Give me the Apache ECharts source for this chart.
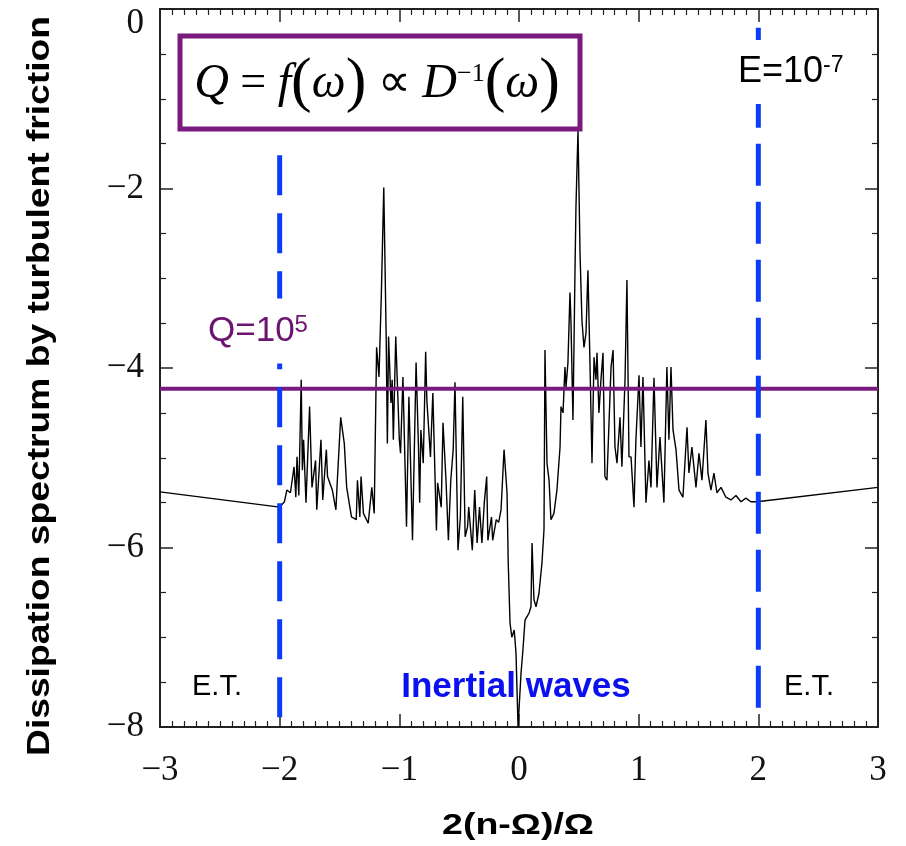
<!DOCTYPE html>
<html><head><meta charset="utf-8">
<script src="https://cdn.jsdelivr.net/npm/echarts@6/dist/echarts.min.js"></script>
<style>html,body{margin:0;padding:0;background:#fff}#c{width:906px;height:846px}</style>
</head><body><div id="c"></div>
<script>
// x values: 2(n-Ω)/Ω
const freq = [
 -3, -2.00, -1.96, -1.94, -1.91, -1.88, -1.865, -1.855, -1.84, -1.82,
 -1.81, -1.80, -1.78, -1.75, -1.73, -1.70, -1.69, -1.655, -1.64, -1.61,
 -1.60, -1.56, -1.53, -1.52, -1.49, -1.46, -1.44, -1.40, -1.36, -1.35,
 -1.33, -1.32, -1.30, -1.26, -1.23, -1.21, -1.19, -1.17, -1.15, -1.13,
 -1.11, -1.10, -1.09, -1.07, -1.06, -1.05, -1.03, -1.00, -0.99, -0.97,
 -0.94, -0.92, -0.89, -0.86, -0.84, -0.83, -0.82, -0.80, -0.78, -0.77,
 -0.74, -0.72, -0.69, -0.68, -0.65, -0.635, -0.61, -0.59, -0.57, -0.55,
 -0.535, -0.51, -0.49, -0.47, -0.45, -0.43, -0.42, -0.39, -0.37, -0.35,
 -0.33, -0.31, -0.29, -0.27, -0.26, -0.23, -0.22, -0.19, -0.17, -0.15,
 -0.125, -0.10, -0.09, -0.075, -0.06, -0.04, -0.025, -0.008, 0.017, 0.033,
 0.05, 0.067, 0.084, 0.10, 0.109, 0.125, 0.142, 0.167, 0.192, 0.209,
 0.217, 0.234, 0.251, 0.267, 0.292, 0.317, 0.343, 0.351, 0.368, 0.384,
 0.393, 0.409, 0.426, 0.434, 0.451, 0.468, 0.476, 0.493, 0.51, 0.526,
 0.543, 0.56, 0.576, 0.593, 0.61, 0.627, 0.643, 0.652, 0.668, 0.685,
 0.702, 0.718, 0.735, 0.769, 0.786, 0.802, 0.819, 0.844, 0.86, 0.886,
 0.902, 0.919, 0.936, 0.961, 0.977, 1.003, 1.019, 1.036, 1.061, 1.086,
 1.103, 1.128, 1.153, 1.178, 1.211, 1.236, 1.253, 1.27, 1.287, 1.312,
 1.337, 1.37, 1.404, 1.42, 1.445, 1.479, 1.504, 1.529, 1.562, 1.579,
 1.604, 1.629, 1.654, 1.688, 1.729, 1.771, 1.813, 1.855, 1.896, 1.938,
 1.99, 3
];
// y values: dissipation spectrum by turbulent friction
const dissipation = [
 -5.38, -5.55, -5.49, -5.36, -5.39, -5.10, -5.44, -4.99, -5.42, -4.13,
 -5.14, -4.80, -5.50, -4.43, -5.33, -5.03, -5.58, -4.80, -5.47, -4.91,
 -5.21, -5.36, -5.58, -5.30, -4.55, -4.84, -5.33, -5.66, -5.69, -5.25,
 -5.66, -5.21, -5.62, -5.73, -5.33, -5.62, -3.77, -4.10, -3.16, -1.99,
 -3.65, -4.84, -3.65, -4.39, -4.13, -4.80, -3.65, -4.80, -4.95, -4.10,
 -5.77, -4.32, -5.92, -3.94, -4.88, -5.50, -4.69, -5.06, -3.82, -4.36,
 -4.99, -4.28, -5.81, -5.28, -5.55, -4.61, -5.25, -5.92, -5.25, -4.91,
 -4.16, -6.03, -5.66, -4.32, -5.88, -5.77, -5.55, -6.03, -5.36, -5.95,
 -5.55, -5.95, -5.50, -5.21, -5.92, -5.66, -5.92, -5.69, -5.72, -5.58,
 -4.91, -5.39, -6.17, -6.84, -7.00, -6.92, -7.18, -8.00, -7.40, -7.14,
 -6.81, -6.77, -6.73, -6.66, -5.95, -6.58, -6.66, -6.51, -6.17, -5.80,
 -3.80, -5.06, -5.25, -5.69, -5.62, -5.36, -4.88, -4.43, -4.50, -3.99,
 -4.21, -3.94, -3.16, -3.47, -4.58, -2.91, -2.21, -1.35, -2.72, -3.47,
 -3.77, -3.61, -2.91, -3.94, -5.06, -3.88, -4.13, -3.83, -4.50, -4.13,
 -3.83, -5.21, -5.25, -3.99, -3.80, -4.88, -5.06, -4.55, -5.10, -4.13,
 -3.02, -4.99, -4.99, -5.55, -4.80, -4.08, -4.88, -4.10, -5.50, -5.03,
 -5.33, -4.11, -5.33, -4.77, -5.50, -3.99, -4.80, -3.99, -4.69, -4.91,
 -5.36, -5.44, -4.66, -5.17, -4.88, -5.33, -4.95, -5.25, -4.58, -5.17,
 -5.36, -5.17, -5.39, -5.33, -5.44, -5.47, -5.42, -5.49, -5.45, -5.49,
 -5.49, -5.33
];
const xTickValues = [-3, -2, -1, 0, 1, 2, 3];
const yTickValues = [0, -2, -4, -6, -8];
const qLevel = [-4.23, -4.23];
const qLevelX = [-3, 3];
const leftBoundX = [-2, -2];
const leftBoundY = [-1.63, -8];
const rightBoundX = [2, 2];
const rightBoundY = [-0.21, -7.87];

const zip = (a, b) => a.map((v, i) => [v, b[i]]);
const fmt = v => (v < 0 ? '\u2212' + Math.abs(v) : String(v));
const labelFont = 'Liberation Serif';

const chart = echarts.init(document.getElementById('c'), null, {renderer: 'canvas'});
const axisCommon = {
  type: 'value',
  axisLine: {show: true, onZero: false, lineStyle: {color: '#222', width: 2}},
  axisTick: {show: true, inside: true, length: 13, lineStyle: {color: '#222', width: 1.5}},
  minorTick: {show: true, length: 6, lineStyle: {color: '#222', width: 1.2}},
  splitLine: {show: false},
  minorSplitLine: {show: false}
};
chart.setOption({
  animation: false,
  backgroundColor: '#fff',
  grid: {left: 160, right: 28, top: 9, bottom: 119},
  xAxis: [
    Object.assign({}, axisCommon, {
      min: xTickValues[0], max: xTickValues[xTickValues.length - 1], interval: 1, position: 'bottom',
      minorTick: Object.assign({}, axisCommon.minorTick, {splitNumber: 10}),
      axisLabel: {margin: 26, fontFamily: labelFont, fontSize: 35, color: '#111', formatter: fmt}
    }),
    Object.assign({}, axisCommon, {
      min: xTickValues[0], max: xTickValues[xTickValues.length - 1], interval: 1, position: 'top',
      minorTick: Object.assign({}, axisCommon.minorTick, {splitNumber: 10}),
      axisLabel: {show: false}
    })
  ],
  yAxis: [
    Object.assign({}, axisCommon, {
      min: yTickValues[yTickValues.length - 1], max: yTickValues[0], interval: 2, position: 'left',
      minorTick: Object.assign({}, axisCommon.minorTick, {splitNumber: 4}),
      axisLabel: {
        margin: 16, fontFamily: labelFont, fontSize: 35, color: '#111',
        formatter: v => (v === 0 ? '{z|0}' : fmt(v)),
        rich: {z: {fontFamily: labelFont, fontSize: 35, color: '#111', padding: [30, 0, 0, 0]}}
      }
    }),
    Object.assign({}, axisCommon, {
      min: yTickValues[yTickValues.length - 1], max: yTickValues[0], interval: 2, position: 'right',
      minorTick: Object.assign({}, axisCommon.minorTick, {splitNumber: 4}),
      axisLabel: {show: false}
    })
  ],
  series: [
    {
      name: 'spectrum', type: 'line', data: zip(freq, dissipation), showSymbol: false,
      lineStyle: {color: '#000', width: 1.4}, z: 2, clip: true
    },
    {
      name: 'Q', type: 'line', data: zip(qLevelX, qLevel), showSymbol: false,
      lineStyle: {color: '#7A1A7E', width: 4}, z: 3
    },
    {
      name: 'left bound', type: 'line', data: zip(leftBoundX, leftBoundY), showSymbol: false,
      lineStyle: {color: '#0B3CFA', width: 5, type: [40, 18], cap: 'butt'}, z: 4
    },
    {
      name: 'right bound', type: 'line', data: zip(rightBoundX, rightBoundY), showSymbol: false,
      lineStyle: {color: '#0B3CFA', width: 5, type: [42, 16], cap: 'butt'}, z: 4
    }
  ],
  graphic: [
    {
      type: 'rect', z: 100,
      shape: {x: 180, y: 36, width: 400, height: 93},
      style: {fill: '#fff', stroke: '#7A1A7E', lineWidth: 5}
    },
    {
      type: 'text', z: 101, x: 377, y: 84,
      style: {
        text: '{i|Q}{n| = }{i|f}{p|(}{i|\u03C9}{p|)}{n| \u221D }{i|D}{s|\u22121}{p|(}{i|\u03C9}{p|)}',
        align: 'center', verticalAlign: 'middle',
        rich: {
          i: {fontFamily: 'Liberation Serif', fontStyle: 'italic', fontSize: 48, fill: '#000', color: '#000'},
          n: {fontFamily: 'Liberation Serif', fontSize: 46, fill: '#000', color: '#000'},
          p: {fontFamily: 'Liberation Serif', fontSize: 62, fill: '#000', color: '#000'},
          s: {fontFamily: 'Liberation Serif', fontSize: 26, fill: '#000', color: '#000', verticalAlign: 'top', padding: [8, 0, 0, 0]}
        }
      }
    },
    {
      type: 'text', z: 101, x: 734, y: 72,
      style: {
        text: '{a|E=10}{s|-7}', align: 'left', verticalAlign: 'middle',
        backgroundColor: '#fff', padding: [14, 4, 14, 4],
        rich: {
          a: {fontFamily: 'Liberation Sans', fontSize: 36, fill: '#000', color: '#000'},
          s: {fontFamily: 'Liberation Sans', fontSize: 23, fill: '#000', color: '#000', verticalAlign: 'top'}
        }
      }
    },
    {
      type: 'text', z: 101, x: 206, y: 331,
      style: {
        text: '{a|Q=10}{s|5}', align: 'left', verticalAlign: 'middle',
        backgroundColor: '#fff', padding: [15, 4, 15, 2],
        rich: {
          a: {fontFamily: 'Liberation Sans', fontSize: 35, fill: '#6B1470', color: '#6B1470'},
          s: {fontFamily: 'Liberation Sans', fontSize: 24, fill: '#6B1470', color: '#6B1470', verticalAlign: 'top'}
        }
      }
    },
    {
      type: 'text', z: 101, x: 192, y: 687,
      style: {text: 'E.T.', font: '29px "Liberation Sans"', fill: '#000', align: 'left', verticalAlign: 'middle'}
    },
    {
      type: 'text', z: 101, x: 784, y: 687,
      style: {text: 'E.T.', font: '29px "Liberation Sans"', fill: '#000', align: 'left', verticalAlign: 'middle'}
    },
    {
      type: 'text', z: 101, x: 516, y: 687,
      style: {text: 'Inertial waves', font: 'bold 35px "Liberation Sans"', fill: '#0A10EE', align: 'center', verticalAlign: 'middle'}
    },
    {
      type: 'text', z: 101, x: 518, y: 826, scaleX: 1.25,
      style: {text: '2(n-\u03A9)/\u03A9', font: 'bold 30px "Liberation Sans"', fill: '#000', align: 'center', verticalAlign: 'middle'}
    },
    {
      type: 'text', z: 101, x: 40, y: 386, rotation: Math.PI / 2, scaleX: 1.2,
      style: {text: 'Dissipation spectrum by turbulent friction', font: 'bold 31px "Liberation Sans"', fill: '#000', align: 'center', verticalAlign: 'middle'}
    }
  ]
});
</script>
</body></html>
